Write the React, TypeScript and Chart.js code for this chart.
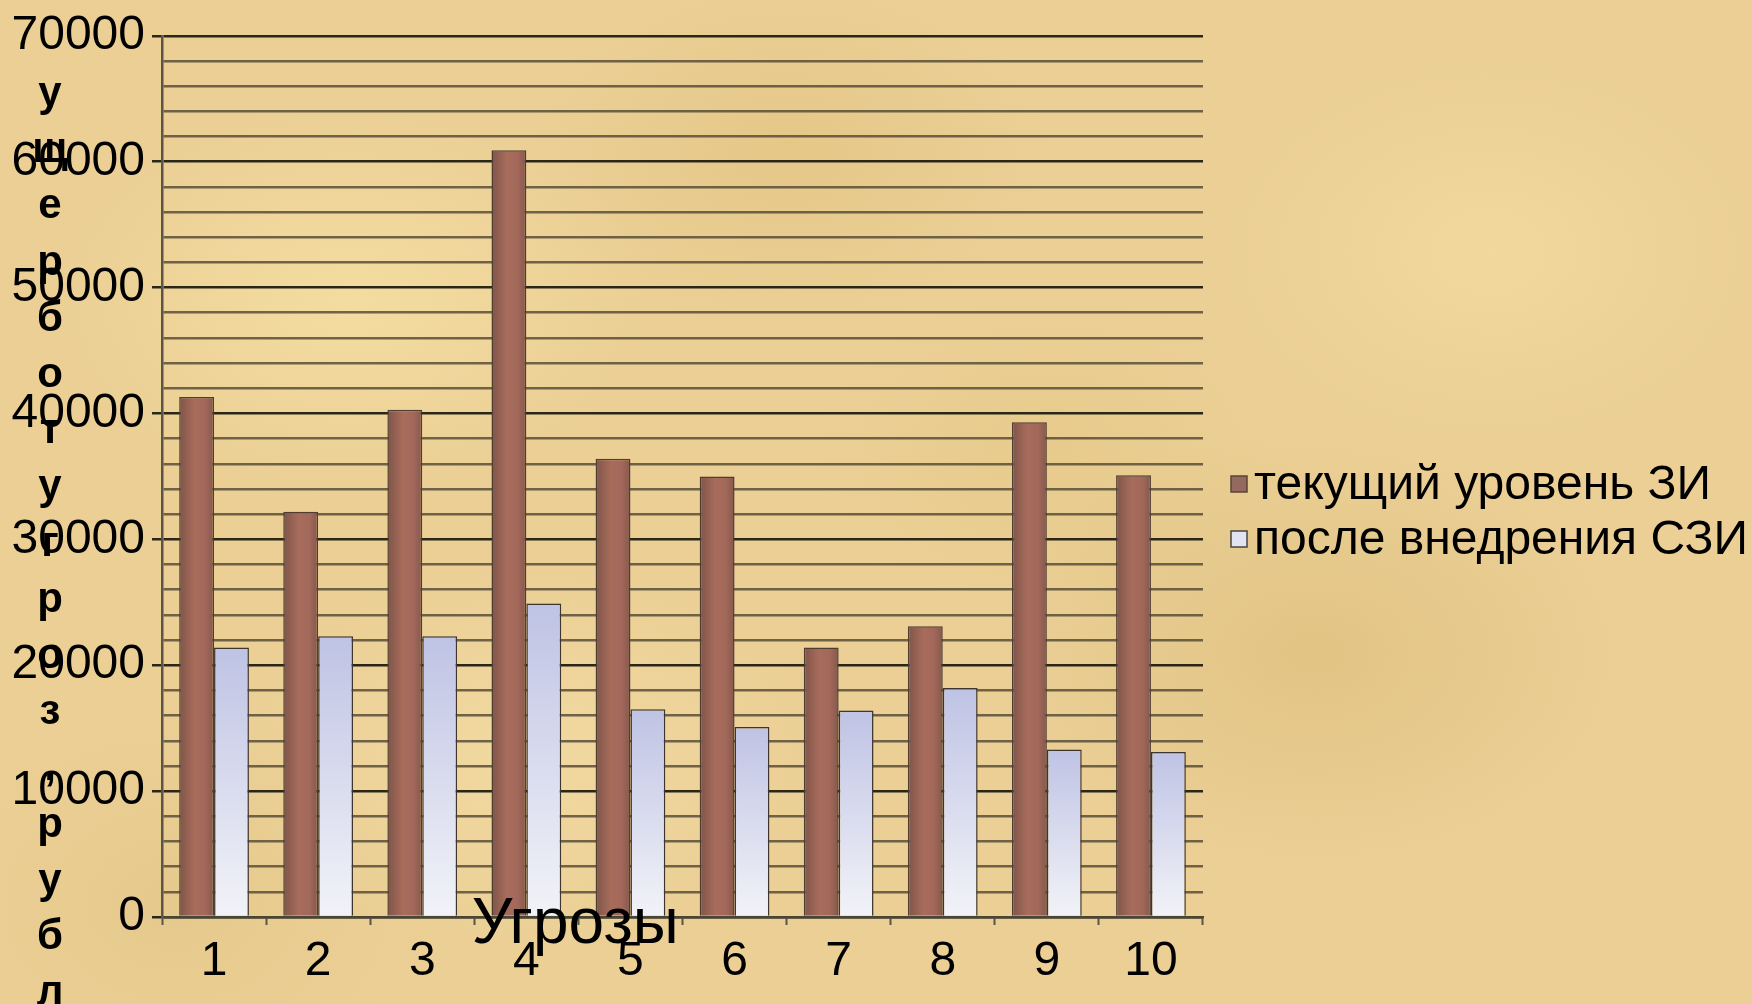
import React, { useEffect, useRef } from 'react';
import { Chart, registerables } from 'chart.js';

Chart.register(...registerables);

const categories = ['1', '2', '3', '4', '5', '6', '7', '8', '9', '10'];
const currentLevel = [41300, 32200, 40300, 60900, 36400, 35000, 21400, 23100, 39300, 35100];
const afterSZI = [21400, 22300, 22300, 24900, 16500, 15100, 16400, 18200, 13300, 13100];
const seriesLabels = ['текущий уровень ЗИ', 'после внедрения СЗИ'];
const yMin = 0;
const yMax = 70000;
const yMinorStep = 2000;
const yMajorStep = 10000;
const xTitle = 'Угрозы';
const yTitle = 'ущерб от угроз, рублей';

const FONT = '"Liberation Sans", Arial, sans-serif';
const CAT_PCT = 0.67;
const legendSwatch = ['#946a5e', '#e2e4f2'];
const legendSwatchBorder = ['#5a4638', '#4a4440'];

const titlesPlugin = {
  id: 'titlesPlugin',
  afterDraw(chart: any) {
    const { ctx, chartArea } = chart;
    ctx.save();
    ctx.fillStyle = '#000';
    // x-axis title
    ctx.font = `64px ${FONT}`;
    ctx.textAlign = 'center';
    ctx.textBaseline = 'alphabetic';
    const xc = chartArea.left + 0.397 * (chartArea.right - chartArea.left);
    ctx.fillText(xTitle, xc, chartArea.bottom + 26);
    // y-axis title, stacked letters
    ctx.font = `bold 42px ${FONT}`;
    const letters = yTitle.replace(/ /g, '').split('');
    letters.forEach((ch, i) => {
      ctx.fillText(ch, 50, 106 + 56.2 * i);
    });
    // legend
    ctx.textAlign = 'left';
    ctx.textBaseline = 'middle';
    ctx.font = `48px ${FONT}`;
    const lx = chartArea.right + 28;
    const cy0 = 484;
    chart.data.datasets.forEach((ds: any, i: number) => {
      const cy = cy0 + i * 55;
      ctx.fillStyle = legendSwatch[i];
      ctx.fillRect(lx, cy - 8, 16, 16);
      ctx.lineWidth = 1.5;
      ctx.strokeStyle = legendSwatchBorder[i];
      ctx.strokeRect(lx, cy - 8, 16, 16);
      ctx.fillStyle = '#000';
      ctx.fillText(ds.label, lx + 23, cy + 2);
    });
    ctx.restore();
  },
};

function barEdges(chart: any, index: number, which: number) {
  const xs = chart.scales.x;
  const center = xs.getPixelForValue(index);
  const catW = (chart.chartArea.right - chart.chartArea.left) / categories.length;
  const barW = (catW * CAT_PCT) / 2;
  const left = which === 0 ? center - barW : center;
  return [left, left + barW];
}

export default function App() {
  const ref = useRef<HTMLCanvasElement | null>(null);

  useEffect(() => {
    document.body.style.margin = '0';
    const canvas = ref.current!;
    const c2d = canvas.getContext('2d')!;
    const chart = new Chart(c2d, {
      type: 'bar',
      data: {
        labels: categories,
        datasets: [
          {
            label: seriesLabels[0],
            data: currentLevel,
            backgroundColor: (ctx: any) => {
              const { chart } = ctx;
              if (!chart.chartArea || !chart.scales.x || ctx.dataIndex === undefined) return '#9b6455';
              const [l, r] = barEdges(chart, ctx.dataIndex, 0);
              const g = chart.ctx.createLinearGradient(l, 0, r, 0);
              g.addColorStop(0, '#7f5549');
              g.addColorStop(0.45, '#a86c5b');
              g.addColorStop(0.75, '#a2685a');
              g.addColorStop(1, '#84594c');
              return g;
            },
            borderColor: '#4e3e32',
            borderWidth: 1.5,
            categoryPercentage: CAT_PCT,
            barPercentage: 1.0,
          },
          {
            label: seriesLabels[1],
            data: afterSZI,
            backgroundColor: (ctx: any) => {
              const { chart } = ctx;
              const area = chart.chartArea;
              if (!area || !chart.scales.y || ctx.parsed === undefined) return '#dde0f0';
              const top = chart.scales.y.getPixelForValue(ctx.parsed.y);
              const g = chart.ctx.createLinearGradient(0, top, 0, area.bottom);
              g.addColorStop(0, '#bfc3e4');
              g.addColorStop(1, '#f2f3f8');
              return g;
            },
            borderColor: '#3e362e',
            borderWidth: 1.5,
            categoryPercentage: CAT_PCT,
            barPercentage: 1.0,
          },
        ],
      },
      options: {
        animation: false,
        responsive: false,
        events: [],
        layout: { padding: { top: 33, left: 0, right: 549, bottom: 0 } },
        plugins: {
          legend: { display: false },
          tooltip: { enabled: false },
        },
        scales: {
          x: {
            afterFit: (scale: any) => {
              scale.height = 87;
            },
            grid: {
              display: true,
              drawOnChartArea: false,
              drawTicks: true,
              tickLength: 8,
              tickColor: '#5a5548',
              tickWidth: 2,
              offset: true,
            },
            border: { display: true, color: '#4a4636', width: 2.5 },
            ticks: {
              color: '#000',
              padding: 8,
              font: { family: FONT, size: 48 },
              maxRotation: 0,
            },
          },
          y: {
            min: yMin,
            max: yMax,
            afterFit: (scale: any) => {
              scale.width = 162;
            },
            grid: {
              color: (ctx: any) =>
                ctx.tick && ctx.tick.value % yMajorStep === 0 ? '#2a2618' : 'rgba(88,78,56,0.85)',
              lineWidth: 2.5,
              tickLength: 10,
              tickColor: (ctx: any) =>
                ctx.tick && ctx.tick.value % yMajorStep === 0 ? '#2a2618' : 'rgba(0,0,0,0)',
              tickWidth: 2.5,
            },
            border: { display: true, color: '#5a5548', width: 2.5 },
            ticks: {
              stepSize: yMinorStep,
              autoSkip: false,
              color: '#000',
              padding: 7,
              font: { family: FONT, size: 48 },
              callback: (v: any) => (Number(v) % yMajorStep === 0 ? String(v) : ''),
            },
          },
        },
      },
      plugins: [titlesPlugin],
    });
    return () => chart.destroy();
  }, []);

  const bg = [
    'radial-gradient(ellipse 300px 200px at 20% 30%, rgba(248,226,166,0.7), transparent)',
    'radial-gradient(ellipse 260px 180px at 45% 15%, rgba(222,190,120,0.45), transparent)',
    'radial-gradient(ellipse 320px 220px at 75% 65%, rgba(214,182,112,0.45), transparent)',
    'radial-gradient(ellipse 280px 200px at 85% 25%, rgba(246,222,162,0.6), transparent)',
    'radial-gradient(ellipse 300px 200px at 30% 75%, rgba(246,224,168,0.6), transparent)',
    'radial-gradient(ellipse 240px 160px at 60% 45%, rgba(226,196,126,0.4), transparent)',
    'radial-gradient(ellipse 260px 200px at 10% 90%, rgba(222,194,128,0.4), transparent)',
    '#ebcf95',
  ].join(', ');

  return (
    <div
      style={{
        position: 'fixed',
        left: 0,
        top: 0,
        width: 1752,
        height: 1004,
        background: bg,
        overflow: 'hidden',
      }}
    >
      <canvas ref={ref} width={1752} height={1004} style={{ display: 'block' }} />
    </div>
  );
}
